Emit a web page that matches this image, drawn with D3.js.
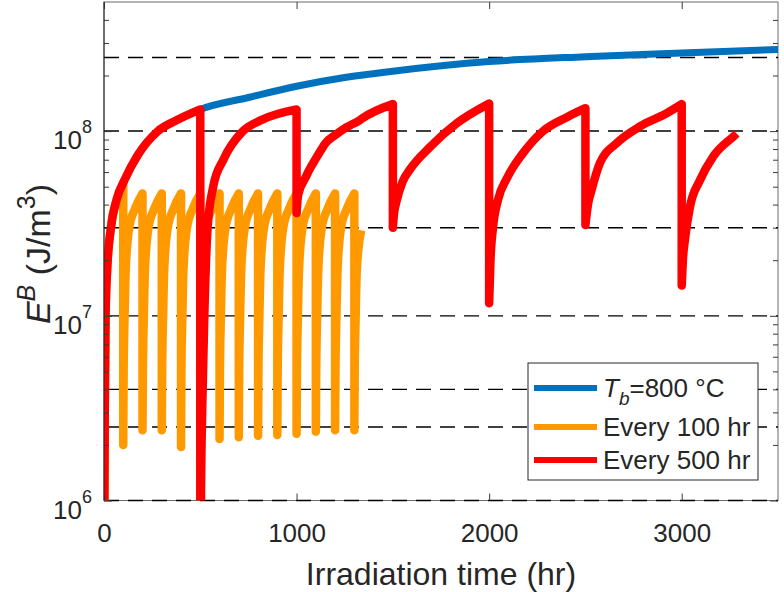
<!DOCTYPE html>
<html>
<head>
<meta charset="utf-8">
<script src="https://cdn.jsdelivr.net/npm/d3@7"></script>
<style>
  body { margin: 0; background: #fff; }
  text { font-family: "Liberation Sans", Arial, Helvetica, sans-serif; fill: #262626; }
</style>
</head>
<body>
<div id="chart"></div>
<script>
// values: time in hr, stored energy E^B in J/m^3

// T_b = 800 C (no annealing)
var blueT = [0, 2, 4, 8, 16, 36, 67, 109, 175, 280, 374, 500, 750, 1000, 1250, 1500, 2000, 2500, 3000, 3500];
var blueE = [1e5, 1e6, 3.1e6, 1e7, 1.75e7, 3e7, 4.3e7, 5.5e7, 7.4e7, 1e8, 1.14e8, 1.31e8, 1.52e8, 1.75e8, 1.95e8, 2.11e8, 2.38e8, 2.53e8, 2.65e8, 2.77e8];

// anneal every 100 hr (a repeated time = vertical drop)
var orangeT = [
  0, 2, 4, 8, 16, 36, 67, 100,
  100, 102, 107, 113, 131, 161, 200,
  200, 202, 207, 213, 231, 261, 300,
  300, 302, 307, 313, 331, 361, 400,
  400, 402, 407, 413, 431, 461, 500,
  500, 502, 507, 513, 531, 561, 600,
  600, 602, 607, 613, 631, 661, 700,
  700, 702, 707, 713, 731, 761, 800,
  800, 802, 807, 813, 831, 861, 900,
  900, 902, 907, 913, 931, 961, 1000,
  1000, 1002, 1007, 1013, 1031, 1061, 1100,
  1100, 1102, 1107, 1113, 1131, 1161, 1200,
  1200, 1202, 1207, 1213, 1231, 1261, 1300,
  1300, 1302, 1307, 1313, 1336
];
var orangeE = [
  1e5, 1e6, 3.1e6, 1e7, 1.75e7, 3e7, 4.3e7, 5.2e7,
  2.0e6, 5e6, 1e7, 1.8e7, 3e7, 3.8e7, 4.6e7,
  2.4e6, 5e6, 1e7, 1.8e7, 3e7, 3.8e7, 4.6e7,
  2.4e6, 5e6, 1e7, 1.8e7, 3e7, 3.8e7, 4.6e7,
  1.95e6, 5e6, 1e7, 1.8e7, 3e7, 3.8e7, 4.6e7,
  2.1e6, 5e6, 1e7, 1.8e7, 3e7, 3.8e7, 4.6e7,
  2.15e6, 5e6, 1e7, 1.8e7, 3e7, 3.8e7, 4.6e7,
  2.2e6, 5e6, 1e7, 1.8e7, 3e7, 3.8e7, 4.6e7,
  2.24e6, 5e6, 1e7, 1.8e7, 3e7, 3.8e7, 4.6e7,
  2.26e6, 5e6, 1e7, 1.8e7, 3e7, 3.8e7, 4.6e7,
  2.3e6, 5e6, 1e7, 1.8e7, 3e7, 3.8e7, 4.6e7,
  2.36e6, 5e6, 1e7, 1.8e7, 3e7, 3.8e7, 4.6e7,
  2.4e6, 5e6, 1e7, 1.8e7, 3e7, 3.8e7, 4.6e7,
  2.4e6, 5e6, 1e7, 1.8e7, 2.9e7
];

// anneal every 500 hr
var redT = [
  0, 2, 4, 8, 16, 36, 67, 109, 175, 280, 374, 500,
  500, 504, 510, 521, 538, 568, 620, 722, 819, 1000,
  1000, 1008, 1050, 1060, 1100, 1140, 1150, 1200, 1260, 1330, 1340, 1500,
  1500, 1505, 1520, 1550, 1589, 1693, 1831, 2000,
  2000, 2007, 2020, 2046, 2093, 2176, 2280, 2404, 2500,
  2500, 2513, 2532, 2575, 2662, 2783, 2922, 3000,
  3000, 3006, 3017, 3043, 3094, 3164, 3276, 3285
];
var redE = [
  1e5, 1e6, 3.1e6, 1e7, 1.75e7, 3e7, 4.3e7, 5.5e7, 7.4e7, 1e8, 1.14e8, 1.31e8,
  1e5, 1.14e6, 3.1e6, 1e7, 3e7, 5.05e7, 7e7, 1e8, 1.15e8, 1.31e8,
  3.6e7, 4.5e7, 5.7e7, 6.0e7, 7.1e7, 8.3e7, 8.6e7, 9.5e7, 1.05e8, 1.15e8, 1.17e8, 1.4e8,
  3.0e7, 3.5e7, 4.2e7, 5.3e7, 6.2e7, 8.2e7, 1.1e8, 1.41e8,
  1.17e7, 2.0e7, 3.0e7, 4.24e7, 5.57e7, 7.6e7, 1e8, 1.19e8, 1.33e8,
  3.1e7, 4.0e7, 4.8e7, 6.7e7, 8.6e7, 1.06e8, 1.25e8, 1.4e8,
  1.46e7, 2.0e7, 2.6e7, 3.9e7, 5.4e7, 7.3e7, 9.5e7, 9.7e7
];

// dashed reference levels
var gridE = [1e6, 2.5e6, 4e6, 1e7, 3e7, 1e8, 2.5e8];
var xTicks = [0, 1000, 2000, 3000];
var yMajor = [1e6, 1e7, 1e8];
var yMinor = [2e6, 3e6, 4e6, 5e6, 6e6, 7e6, 8e6, 9e6, 2e7, 3e7, 4e7, 5e7, 6e7, 7e7, 8e7, 9e7, 2e8, 3e8, 4e8];

var legendLabels = ["T_b=800 °C", "Every 100 hr", "Every 500 hr"];
var colors = ["#0072BD", "#FF9900", "#FF0000"];

var svgWidth = 784, svgHeight = 592;
var margin = { top: 2, right: 6, bottom: 91.5, left: 104 };
var chartWidth = svgWidth - margin.left - margin.right;
var chartHeight = svgHeight - margin.top - margin.bottom;

var svg = d3.select("#chart").append("svg")
  .attr("width", svgWidth)
  .attr("height", svgHeight);

var chartGroup = svg.append("g")
  .attr("transform", `translate(${margin.left}, ${margin.top})`);

var xScale = d3.scaleLinear().domain([0, 3500]).range([0, chartWidth]);
var yScale = d3.scaleLog().domain([1e6, 5e8]).range([chartHeight, 0]);

chartGroup.append("clipPath").attr("id", "clip")
  .append("rect").attr("width", chartWidth).attr("height", chartHeight);

// box first, so the dashed 1e6 level sits on the bottom edge
chartGroup.append("rect")
  .attr("width", chartWidth).attr("height", chartHeight)
  .attr("fill", "none").attr("stroke", "#6b6b6b").attr("stroke-width", 1);

// dashed levels under the curves
chartGroup.selectAll(".level")
  .data(gridE)
  .enter()
  .append("line")
  .attr("x1", 0).attr("x2", chartWidth)
  .attr("y1", d => yScale(d)).attr("y2", d => yScale(d))
  .attr("stroke", "#000")
  .attr("stroke-width", d => d >= 3e7 ? 1.5 : 1.3)
  .attr("stroke-dasharray", "15,9");

// split on repeated times so each piece is smooth and drops stay vertical
function pieces(ts, es) {
  var out = [], cur = [];
  ts.forEach(function(t, i) {
    if (i > 0 && t === ts[i - 1]) { out.push(cur); cur = []; }
    cur.push([t, es[i]]);
  });
  out.push(cur);
  return out;
}

var line = d3.line()
  .x(d => xScale(d[0]))
  .y(d => yScale(d[1]))
  .curve(d3.curveMonotoneX);

function seriesPath(ts, es) {
  return pieces(ts, es).map(function(p, i) {
    var s = line(p);
    return i ? "L" + s.slice(1) : s;
  }).join("");
}

var series = [
  { t: blueT, e: blueE, w: 7 },
  { t: orangeT, e: orangeE, w: 8.5 },
  { t: redT, e: redE, w: 8.5 }
];

var curves = chartGroup.append("g").attr("clip-path", "url(#clip)");
curves.selectAll(".series")
  .data(series)
  .enter()
  .append("path")
  .classed("series", true)
  .attr("d", d => seriesPath(d.t, d.e))
  .attr("fill", "none")
  .attr("stroke", (d, i) => colors[i])
  .attr("stroke-width", d => d.w)
  .attr("stroke-linejoin", "round")
  .attr("stroke-linecap", "butt");

// axes: ticks point inward on all four sides
var xAxis = d3.axisBottom(xScale).tickValues(xTicks).tickSize(-7).tickPadding(23).tickFormat(d3.format("d"));
var xTop = d3.axisTop(xScale).tickValues(xTicks).tickSize(-7).tickFormat("");
var yLeft = d3.axisLeft(yScale).tickValues(yMajor).tickSize(-8).tickFormat("");
var yLeftMinor = d3.axisLeft(yScale).tickValues(yMinor).tickSize(-5).tickFormat("");
var yRight = d3.axisRight(yScale).tickValues(yMajor).tickSize(-8).tickFormat("");
var yRightMinor = d3.axisRight(yScale).tickValues(yMinor).tickSize(-5).tickFormat("");

function styleAxis(g) {
  g.select(".domain").remove();
  g.selectAll("line").attr("stroke", "#3a3a3a");
  g.selectAll("text").attr("font-size", 26).attr("fill", "#262626")
    .style("font-family", "Liberation Sans, Arial, sans-serif");
}

chartGroup.append("g").attr("transform", `translate(0, ${chartHeight})`).call(xAxis).call(styleAxis);
chartGroup.append("g").call(xTop).call(styleAxis);
chartGroup.append("g").call(yLeft).call(styleAxis);
chartGroup.append("g").call(yLeftMinor).call(styleAxis);
chartGroup.append("g").attr("transform", `translate(${chartWidth}, 0)`).call(yRight).call(styleAxis);
chartGroup.append("g").attr("transform", `translate(${chartWidth}, 0)`).call(yRightMinor).call(styleAxis);

// left edge drawn darker again on top of the curves' clipped ends
chartGroup.append("line")
  .attr("x1", 0).attr("x2", 0).attr("y1", 0).attr("y2", chartHeight)
  .attr("stroke", "#262626").attr("stroke-width", 1);

// y tick labels 10^n
var yLab = chartGroup.selectAll(".ylab")
  .data(yMajor)
  .enter()
  .append("text")
  .classed("ylab", true)
  .attr("x", -12)
  .attr("y", d => yScale(d) + 18)
  .attr("text-anchor", "end")
  .attr("font-size", 26);
yLab.append("tspan").text("10");
yLab.append("tspan").attr("dy", -16).attr("font-size", 18).text(d => Math.round(Math.log10(d)));

// axis titles
svg.append("text")
  .attr("x", margin.left + chartWidth / 2)
  .attr("y", 585)
  .attr("text-anchor", "middle")
  .attr("font-size", 32)
  .text("Irradiation time (hr)");

var yTitle = svg.append("text")
  .attr("transform", "translate(50, 254) rotate(-90)")
  .attr("text-anchor", "middle")
  .attr("font-size", 34);
yTitle.append("tspan").attr("font-style", "italic").text("E");
yTitle.append("tspan").attr("font-style", "italic").attr("font-size", 25).attr("dy", -15).text("B");
yTitle.append("tspan").attr("dy", 15).text(" (J/m");
yTitle.append("tspan").attr("font-size", 25).attr("dy", -15).text("3");
yTitle.append("tspan").attr("dy", 15).text(")");

// legend
var legend = svg.append("g");
legend.append("rect")
  .attr("x", 528).attr("y", 363).attr("width", 230).attr("height", 117)
  .attr("fill", "#fff").attr("stroke", "#262626").attr("stroke-width", 1);

var legendY = [388, 427, 460];
legend.selectAll(".lline")
  .data(legendLabels)
  .enter()
  .append("line")
  .attr("x1", 534).attr("x2", 597)
  .attr("y1", (d, i) => legendY[i]).attr("y2", (d, i) => legendY[i])
  .attr("stroke", (d, i) => colors[i])
  .attr("stroke-width", 6);

var lt = legend.selectAll(".ltext")
  .data(legendLabels)
  .enter()
  .append("text")
  .attr("x", 603)
  .attr("y", (d, i) => legendY[i] + 9)
  .attr("font-size", 26);
lt.each(function(d) {
  var t = d3.select(this);
  if (d.indexOf("T_b") === 0) {
    t.append("tspan").attr("font-style", "italic").text("T");
    t.append("tspan").attr("font-style", "italic").attr("font-size", 19).attr("dy", 8).text("b");
    t.append("tspan").attr("dy", -8).text(d.slice(3));
  } else {
    t.text(d);
  }
});
</script>
</body>
</html>
